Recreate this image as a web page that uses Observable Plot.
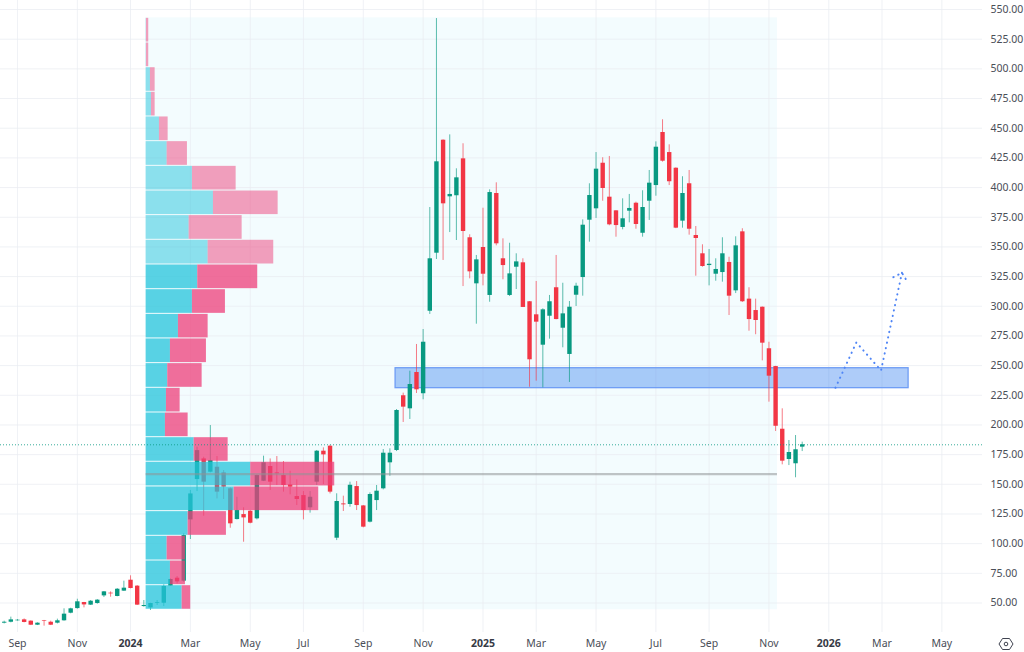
<!DOCTYPE html>
<html>
<head>
<meta charset="utf-8">
<script src="https://cdn.jsdelivr.net/npm/d3@7"></script>
<script src="https://cdn.jsdelivr.net/npm/@observablehq/plot@0.6"></script>
<style>
  html,body{margin:0;padding:0;background:#fff;}
  #chart{position:relative;width:1024px;height:652px;overflow:hidden;}
  #chart svg{display:block;}
  #logo{position:absolute;left:998px;top:637px;}
</style>
</head>
<body>
<div id="chart"></div>
<script>
// weekly candles, first one on this Monday
const firstWeek = "2023-08-21";
const opens = [33.0,33.8,35.0,35.8,34.7,31.3,35.2,33.8,33.0,35.0,41.4,45.3,50.4,48.2,49.6,56.0,58.3,55.5,60.0,69.2,64.2,47.0,45.9,49.8,49.8,64.2,70.9,68.4,120.0,154.0,171.4,160.2,164.4,159.6,146.2,120.3,124.5,127.3,120.9,152.6,165.0,159.6,157.4,149.5,139.7,140.5,130.2,151.8,177.9,182.1,104.6,133.5,133.0,148.1,131.8,118.1,136.3,146.2,168.1,178.5,224.6,213.6,244.2,226.3,295.8,344.7,439.9,392.2,393.1,424.2,357.7,318.9,349.5,309.1,395.0,340.0,309.1,332.9,336.6,303.8,292.8,267.2,291.6,315.6,281.5,259.4,309.3,324.2,372.5,382.1,420.5,391.9,380.4,366.4,380.1,386.8,361.5,388.5,401.7,446.4,429.5,416.3,371.7,403.2,359.6,344.2,334.3,327.0,328.4,336.9,313.0,362.7,306.0,296.4,299.2,264.2,249.2,196.4,170.9,167.3,181.3];
const highs = [34.7,38.1,36.1,36.6,35.0,33.3,35.3,34.7,36.4,45.1,45.6,53.2,50.5,52.1,52.9,59.7,59.4,62.2,68.4,72.9,64.7,52.1,49.8,52.1,65.3,70.3,72.3,108.3,144.8,181.3,172.8,199.5,173.4,161.6,147.0,139.1,130.2,127.9,157.9,173.7,171.4,173.4,169.2,161.0,153.7,143.9,143.9,178.5,180.7,182.9,142.0,140.0,151.8,152.3,132.1,142.8,149.0,179.3,179.9,213.0,226.8,245.3,267.8,280.4,383.2,542.4,440.2,444.4,415.8,436.9,360.2,342.8,382.6,398.1,404.0,356.8,353.1,344.2,340.0,304.0,320.9,297.9,309.1,342.8,319.4,304.0,319.4,372.8,403.2,429.5,425.1,426.2,380.5,390.5,394.2,387.7,397.3,414.4,438.5,457.1,436.0,416.6,409.1,414.4,367.2,351.8,347.8,340.0,357.7,341.3,358.5,365.3,315.6,306.0,299.4,269.7,249.4,213.6,186.9,191.1,185.5];
const lows = [32.4,33.3,34.7,33.3,31.0,31.0,30.5,31.0,32.4,34.7,40.9,44.8,45.9,47.9,49.0,54.6,54.9,55.2,59.7,61.9,47.9,46.5,43.7,47.9,47.0,64.0,66.1,67.5,103.5,143.9,123.1,159.6,137.7,137.2,113.0,120.0,101.2,116.7,120.0,152.3,144.8,149.0,143.4,141.1,132.1,120.0,125.7,149.0,149.8,141.9,102.6,127.1,130.7,127.9,113.3,117.5,127.9,145.3,156.8,177.6,202.1,204.6,226.5,221.2,293.1,339.4,338.6,362.1,355.4,316.6,323.1,284.9,317.2,303.4,350.9,322.3,308.2,314.1,298.9,231.8,236.9,231.3,272.3,288.6,265.0,235.8,299.8,308.5,354.0,374.0,388.5,367.8,358.2,364.4,370.3,364.9,358.2,372.3,392.7,421.4,401.7,365.4,365.8,359.9,325.3,332.9,317.2,321.1,320.3,292.2,310.7,303.2,279.0,276.0,254.0,219.2,194.5,166.4,165.8,155.5,177.6];
const closes = [33.8,35.8,35.5,33.6,31.3,33.0,34.7,31.3,35.0,40.6,45.1,51.0,48.4,51.5,52.4,59.4,57.7,61.6,62.5,62.2,48.2,47.9,49.6,50.4,63.9,69.8,67.8,106.8,141.9,178.4,151.8,170.0,143.4,147.6,116.7,127.9,121.7,117.2,157.4,168.1,151.8,158.8,149.0,147.6,137.2,127.9,139.1,177.9,174.8,143.4,135.5,132.7,149.2,132.1,113.9,141.4,144.2,176.2,176.2,212.2,215.0,234.1,229.6,269.7,340.0,421.7,386.3,394.2,408.2,363.0,329.0,339.1,327.0,395.8,352.6,334.3,327.3,337.4,299.0,254.9,286.6,297.0,303.8,288.8,293.6,299.2,316.9,368.3,393.3,415.5,399.2,368.6,368.0,373.7,382.4,368.9,383.2,403.7,434.0,422.2,404.9,365.8,395.0,364.9,357.1,333.5,335.4,331.0,344.2,308.5,350.9,303.8,288.8,288.0,268.9,241.1,198.9,169.5,176.8,179.1,183.3];

// visible-range volume profile, top row first
const rowEdges = [543.0,522.2,501.4,480.7,459.9,439.1,418.3,397.5,376.8,356.0,335.2,314.4,293.6,272.9,252.1,231.3,210.5,189.7,169.0,148.2,127.4,106.6,85.8,65.0,44.3];
const upVolume = [0.3,0.3,4.3,5.3,13.3,21,46.3,67.3,43,62,51.6,46.3,32.3,24.3,21.6,20.3,19.3,48,104.6,88,42,21,24.3,36];
const downVolume = [2.3,2.3,4.7,3.7,8.7,20.3,43.7,64.7,53,65.6,60,33,29.7,36,34.4,13.7,22.7,34,84,84.6,38.3,18.3,15,8.6];
const lightRowCount = 10;
const profileStart = "2024-01-17T10:00Z";
const profileEnd = "2025-11-12T00:00Z";
const pocPrice = 158.5;
const lastPrice = 183.3;

// drawn zone and projected path
const zoneStart = "2024-10-06", zoneEnd = "2026-03-30", zoneLow = 231, zoneHigh = 247.8;
const pathDates = ["2026-01-12","2026-02-03","2026-03-01","2026-03-23"];
const pathPrices = [231.3,269.5,245.9,328.2];
const headDates = ["2026-03-14","2026-03-23","2026-03-29"];
const headPrices = [324.5,328.2,320.3];

// axis ticks
const priceTicks = [50,75,100,125,150,175,200,225,250,275,300,325,350,375,400,425,450,475,500,525,550];
const monthTicks = ["2023-09-04","2023-11-06","2024-03-04","2024-05-06","2024-07-01","2024-09-02","2024-11-04","2025-03-03","2025-05-05","2025-07-07","2025-09-01","2025-11-03","2026-03-02","2026-05-04"];
const yearTicks = ["2024-01-01","2025-01-06","2026-01-05"];

const GREEN = "#089981", RED = "#F23645";
const day = 86400000;
const utc = s => new Date(s.length === 10 ? s + "T00:00Z" : s);
const weeks = opens.map((_, i) => new Date(+utc(firstWeek) + i * 7 * day));
const candles = opens.map((o, i) => ({date: weeks[i], o, h: highs[i], l: lows[i], c: closes[i], col: closes[i] >= o ? GREEN : RED}));

// the profile has its own horizontal unit, laid out from its anchor date
const msPerVolume = day / 0.95;
const anchor = +utc(profileStart);
const rows = upVolume.map((u, i) => ({
  high: rowEdges[i], low: rowEdges[i + 1],
  a0: new Date(anchor),
  a1: new Date(anchor + u * msPerVolume),
  a2: new Date(anchor + (u + downVolume[i]) * msPerVolume),
  upFill: i < lightRowCount ? "rgba(36,196,219,0.5)" : "rgba(36,196,219,0.75)",
  downFill: i < lightRowCount ? "rgba(238,63,122,0.5)" : "rgba(238,63,122,0.75)"
}));

const path = pathDates.map((d, i) => ({d: utc(d), p: pathPrices[i]}));
const head = headDates.map((d, i) => ({d: utc(d), p: headPrices[i]}));
const AXIS = "#4a4e57";
const FONT = "Noto Sans, Liberation Sans, sans-serif";

const chart = Plot.plot({
  width: 1024, height: 652,
  marginLeft: 0, marginRight: 42, marginTop: 0, marginBottom: 20,
  style: {background: "#fff", fontFamily: FONT},
  x: {type: "utc", domain: [new Date("2023-08-17T03:00Z"), new Date("2026-06-15T19:00Z")], label: null},
  y: {domain: [25.15, 557.6], label: null},
  marks: [
    Plot.rect([{}], {x1: () => utc(profileStart), x2: () => utc(profileEnd), y1: rowEdges[rowEdges.length - 1], y2: rowEdges[0], fill: "#F3FCFE"}),
    Plot.ruleX([...monthTicks, ...yearTicks].map(utc), {stroke: "#e9ecf2", strokeOpacity: 0.75}),
    Plot.ruleY(priceTicks, {stroke: "#e9ecf2", strokeOpacity: 0.75}),
    Plot.rect([{}], {x1: () => utc(zoneStart), x2: () => utc(zoneEnd), y1: zoneLow, y2: zoneHigh, fill: "rgba(41,120,240,0.38)", stroke: "#6f9df5", strokeWidth: 1.3}),
    Plot.ruleX(candles, {x: "date", y1: "l", y2: "h", stroke: "col", strokeWidth: 1, strokeOpacity: 0.65}),
    Plot.ruleX(candles, {x: "date", y1: "o", y2: "c", stroke: "col", strokeWidth: 4.4}),
    Plot.rect(rows, {x1: "a0", x2: "a1", y1: "low", y2: "high", fill: "upFill", insetTop: 0.5, insetBottom: 0.5}),
    Plot.rect(rows, {x1: "a1", x2: "a2", y1: "low", y2: "high", fill: "downFill", insetTop: 0.5, insetBottom: 0.5}),
    Plot.ruleY([pocPrice], {x1: () => utc(profileStart), x2: () => utc(profileEnd), stroke: "#8f9396", strokeOpacity: 0.55, strokeWidth: 2.2}),
    Plot.ruleY([lastPrice], {stroke: GREEN, strokeOpacity: 0.8, strokeDasharray: "1 2", strokeWidth: 1}),
    Plot.line(path, {x: "d", y: "p", stroke: "#4f85f6", strokeWidth: 2, strokeLinecap: "round", strokeDasharray: "0.3 5.2"}),
    Plot.line(head, {x: "d", y: "p", stroke: "#4f85f6", strokeWidth: 2, strokeLinecap: "round", strokeDasharray: "0.3 5.2"}),
    Plot.axisY(priceTicks, {anchor: "right", tickSize: 0, tickPadding: 8, tickFormat: d => d.toFixed(2), fontSize: 10.5, color: AXIS, label: null}),
    Plot.axisX(monthTicks.map(utc), {anchor: "bottom", tickSize: 0, tickPadding: 7, tickFormat: d3.utcFormat("%b"), fontSize: 10.5, color: AXIS, label: null}),
    Plot.axisX(yearTicks.map(utc), {anchor: "bottom", tickSize: 0, tickPadding: 7, tickFormat: d3.utcFormat("%Y"), fontSize: 10.5, fontWeight: 700, color: "#363a45", label: null})
  ]
});
const host = document.getElementById("chart");
host.appendChild(chart);
host.insertAdjacentHTML("beforeend", '<svg id="logo" width="16" height="14" viewBox="0 0 16 14"><path d="M1 7 L4.5 1.5 H11.5 L15 7 L11.5 12.5 H4.5 Z" fill="none" stroke="#3f4350" stroke-width="1"/><circle cx="8" cy="7" r="1.8" fill="none" stroke="#3f4350" stroke-width="1"/></svg>');
</script>
</body>
</html>
